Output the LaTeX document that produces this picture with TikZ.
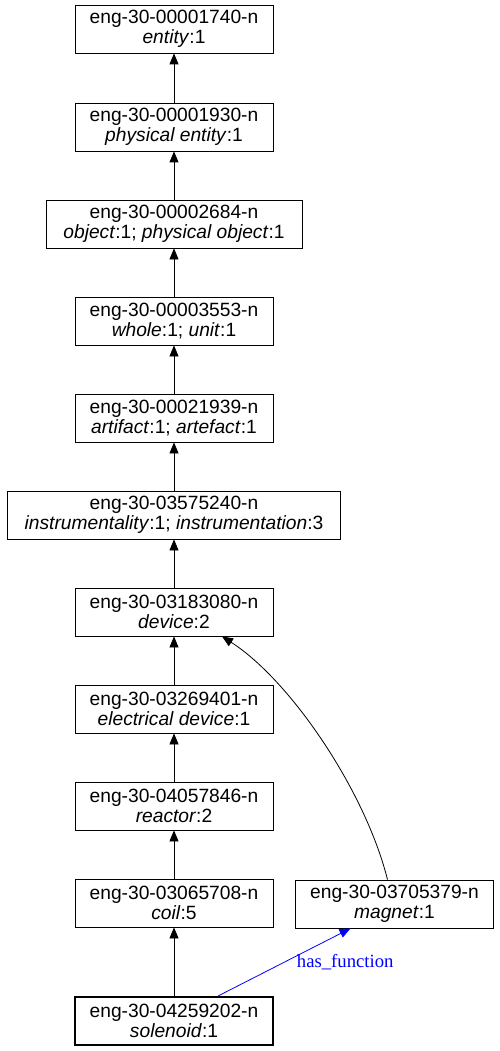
\documentclass[tikz,border=0pt]{standalone}
\usepackage{fontspec}
\setmainfont{Liberation Sans}
\newfontfamily\relfont{Liberation Serif}
\usetikzlibrary{
  arrows.meta,
  positioning
}

\begin{document}
\begin{tikzpicture}[x=1pt, y=-1pt,
  synset/.style = {draw, line width=0.8pt, align=center,
    minimum width=198pt, minimum height=48pt,
    inner xsep=14pt, inner ysep=2pt,
    font=\fontsize{19.2}{19.5}\selectfont},
  wide/.style = {inner xsep=17.5pt},
  hyper/.style = {draw, line width=0.8pt,
    -{Triangle[length=11pt,width=9pt]}},
  relation/.style = {hyper, blue}]
  \useasboundingbox (0,0) rectangle (499,1051);
  \node[synset] (entity)   at (174,29)  {eng-30-00001740-n\\\textit{entity}:1};
  \node[synset] (physent)  at (174,127) {eng-30-00001930-n\\\textit{physical entity}:1};
  \node[synset, wide] (object) at (174,224) {eng-30-00002684-n\\\textit{object}:1; \textit{physical object}:1};
  \node[synset] (whole)    at (174,321) {eng-30-00003553-n\\\textit{whole}:1; \textit{unit}:1};
  \node[synset] (artifact) at (174,418) {eng-30-00021939-n\\\textit{artifact}:1; \textit{artefact}:1};
  \node[synset, wide] (instr) at (174,515) {eng-30-03575240-n\\\textit{instrumentality}:1; \textit{instrumentation}:3};
  \node[synset] (device)   at (174,612) {eng-30-03183080-n\\\textit{device}:2};
  \node[synset] (eldevice) at (174,709) {eng-30-03269401-n\\\textit{electrical device}:1};
  \node[synset] (reactor)  at (174,806) {eng-30-04057846-n\\\textit{reactor}:2};
  \node[synset] (coil)     at (174,903) {eng-30-03065708-n\\\textit{coil}:5};
  \node[synset] (magnet)   at (394.5,904) {eng-30-03705379-n\\\textit{magnet}:1};
  \node[synset, line width=2pt] (solenoid) at (174,1021) {eng-30-04259202-n\\\textit{solenoid}:1};

  % hypernym chain
  \draw[hyper] (physent)  -- (entity);
  \draw[hyper] (object)   -- (physent);
  \draw[hyper] (whole)    -- (object);
  \draw[hyper] (artifact) -- (whole);
  \draw[hyper] (instr)    -- (artifact);
  \draw[hyper] (device)   -- (instr);
  \draw[hyper] (eldevice) -- (device);
  \draw[hyper] (reactor)  -- (eldevice);
  \draw[hyper] (coil)     -- (reactor);
  \draw[hyper] (solenoid) -- (coil);
  \draw[hyper] ([xshift=-7pt]magnet.north)
    .. controls (365,790) and (290,680) .. ([xshift=48pt]device.south);

  % relation
  \draw[relation] ([xshift=44pt]solenoid.north) -- ([xshift=-44pt]magnet.south)
    node[pos=0.5, anchor=west, xshift=9pt, text=blue,
      font=\relfont\fontsize{18.67}{19}\selectfont] (fn) {has\_function};
\end{tikzpicture}
\end{document}
